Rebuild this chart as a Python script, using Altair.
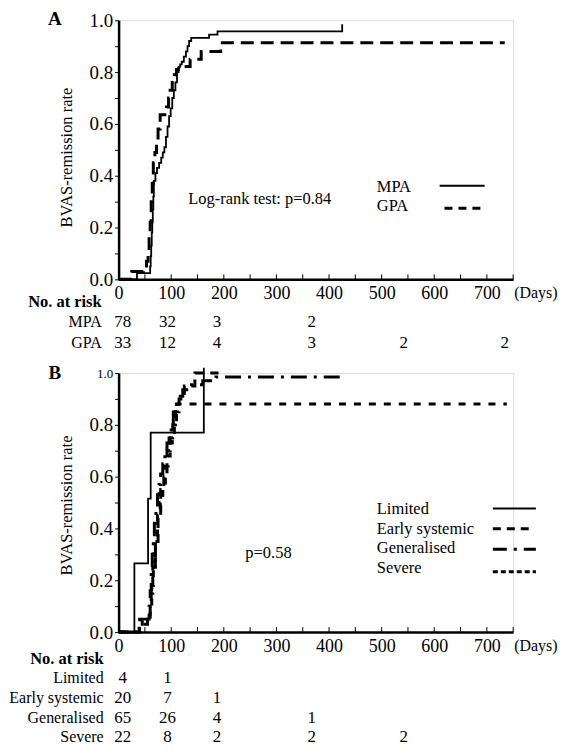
import altair as alt
import pandas as pd

FONT = "Liberation Serif"
W, H = 396, 260
SX, SY = W / 408.0, H / 266.0

# ---------------- data: panel A ----------------
mpa_days = [0, 35, 60, 61, 62, 63, 64, 65, 66, 67, 70, 73, 77, 81, 84, 87, 90, 93, 96, 99,
            102, 105, 108, 111, 114, 117, 120, 124, 128, 131, 134, 138, 172, 188, 425, 425]
mpa_rate = [0, 0.024, 0.05, 0.09, 0.13, 0.18, 0.22, 0.27, 0.32, 0.38, 0.41, 0.43, 0.45, 0.47,
            0.49, 0.51, 0.55, 0.59, 0.63, 0.66, 0.70, 0.73, 0.76, 0.80, 0.82, 0.83, 0.84, 0.86,
            0.88, 0.90, 0.92, 0.932, 0.945, 0.957, 0.957, 0.985]
gpa_days = [0, 25, 47, 53, 56, 58, 60, 62, 64, 66, 69, 72, 75, 79, 91, 95, 98, 102, 106, 110,
            114, 136, 157, 194, 734]
gpa_rate = [0, 0.03, 0.045, 0.07, 0.11, 0.17, 0.22, 0.30, 0.37, 0.45, 0.49, 0.54, 0.58, 0.635,
            0.665, 0.70, 0.73, 0.76, 0.79, 0.81, 0.822, 0.85, 0.88, 0.913, 0.913]

# ---------------- data: panel B ----------------
lim_days = [0, 30, 56, 61, 162, 162]
lim_rate = [0, 0.265, 0.515, 0.77, 1.0, 1.02]
early_days = [0, 40, 60, 62, 65, 70, 75, 80, 86, 92, 98, 103, 108, 115, 125, 145, 190]
early_rate = [0, 0.05, 0.1, 0.15, 0.25, 0.35, 0.45, 0.55, 0.6, 0.7, 0.75, 0.8, 0.85, 0.9,
              0.95, 1.0, 1.0]
gen_days = [0, 36, 45, 55, 58, 60, 62, 64, 66, 68, 71, 74, 77, 80, 84, 88, 92, 96, 100, 104,
            108, 114, 122, 135, 160, 185, 429]
gen_rate = [0, 0.015, 0.03, 0.05, 0.1, 0.16, 0.23, 0.3, 0.36, 0.42, 0.48, 0.53, 0.57, 0.61,
            0.65, 0.69, 0.73, 0.77, 0.81, 0.85, 0.88, 0.91, 0.935, 0.955, 0.97, 0.985, 0.985]
sev_days = [0, 45, 60, 63, 66, 70, 74, 79, 84, 89, 94, 98, 102, 106, 110, 738]
sev_rate = [0, 0.045, 0.09, 0.18, 0.27, 0.36, 0.45, 0.5, 0.55, 0.64, 0.68, 0.73, 0.77, 0.82,
            0.88, 0.88]

# ---------------- axis / table text ----------------
x_label_values = [0, 100, 200, 300, 400, 500, 600, 700]
x_inner_ticks = [0, 50, 100, 150, 200, 250, 300, 350, 400, 450, 500, 550, 600, 650, 700, 750]
y_tick_values = [0, 0.1, 0.2, 0.3, 0.4, 0.5, 0.6, 0.7, 0.8, 0.9, 1.0]
risk_cols = [8, 93, 187, 367, 542, 734]

a_rows = ["MPA", "GPA"]
a_risk = [[78, 32, 3, 2], [33, 12, 4, 3, 2, 2]]
b_rows = ["Limited", "Early systemic", "Generalised", "Severe"]
b_risk = [[4, 1], [20, 7, 1], [65, 26, 4, 1], [22, 8, 2, 2, 2]]

x_scale = alt.Scale(domain=[0, 750], nice=False, zero=False)
y_scale = alt.Scale(domain=[0, 1], nice=False, zero=False)

x_axis = alt.Axis(values=x_label_values, ticks=False, labelFontSize=18, labelPadding=5,
                  labelFlush=False, labelOverlap=False, domainColor="black", domainWidth=2.5,
                  labelColor="black", labelFont=FONT, grid=False, title=None, format="d")


def y_axis(top_small=False):
    lfs = {"condition": {"test": "datum.value == 1", "value": 13}, "value": 19} if top_small else 19
    return alt.Axis(values=y_tick_values,
                    labelExpr="(round(datum.value*10) % 2 == 0) ? format(datum.value, '.1f') : ''",
                    tickSize=4, tickColor="black", tickWidth=1, labelFontSize=lfs, labelPadding=2,
                    labelFlush=False, labelOverlap=False, domainColor="black", domainWidth=2.5,
                    labelColor="black", labelFont=FONT, grid=False, title=None)


def curve(days, rates, dash, width, yax):
    df = pd.DataFrame({"day": days, "rate": rates, "order": list(range(len(days)))})
    mk = dict(interpolate="step-after", color="black", strokeWidth=width)
    if dash:
        mk["strokeDash"] = dash
    return alt.Chart(df).mark_line(**mk).encode(
        x=alt.X("day:Q", scale=x_scale, axis=x_axis),
        y=alt.Y("rate:Q", scale=y_scale, axis=yax),
        order="order:Q")


def txt(s, x, y, size=16.5, align="left", bold=False, angle=None):
    kw = dict(font=FONT, fontSize=size, align=align, baseline="middle", color="black")
    if bold:
        kw["fontWeight"] = "bold"
    if angle is not None:
        kw["angle"] = angle
    return alt.Chart(pd.DataFrame({"t": [s]})).mark_text(**kw).encode(
        x=alt.value(x), y=alt.value(y), text="t:N")


def seg(x1, x2, y, dash, width):
    kw = dict(color="black", strokeWidth=width)
    if dash:
        kw["strokeDash"] = dash
    return alt.Chart(pd.DataFrame({"a": [0]})).mark_rule(**kw).encode(
        x=alt.value(x1 * SX), x2=alt.value(x2 * SX), y=alt.value(y * SY))


def inner_ticks():
    return alt.Chart(pd.DataFrame({"day": x_inner_ticks})).mark_rule(
        color="black", strokeWidth=1).encode(
        x=alt.X("day:Q", scale=x_scale, axis=x_axis), y=alt.value(H), y2=alt.value(H - 5))


def risk_row(counts, ypix):
    df = pd.DataFrame({"day": risk_cols[:len(counts)], "n": counts})
    return alt.Chart(df).mark_text(font=FONT, fontSize=17, baseline="middle",
                                   color="black").encode(
        x=alt.X("day:Q", scale=x_scale, axis=x_axis), y=alt.value(ypix), text="n:N")


# ---------------- panel A ----------------
ya = y_axis(False)
layers_a = [
    inner_ticks(),
    curve(mpa_days, mpa_rate, None, 1.8, ya),
    curve(gpa_days, gpa_rate, [13, 7], 3, ya),
    txt("A", -64, -1, size=19, align="center", bold=True),
    txt("BVAS-remission rate", -52, 141 * SY, size=16.5, align="center", angle=270),
    txt("Log-rank test: p=0.84", 72 * SX, 183 * SY),
    txt("MPA", 267 * SX, 171 * SY),
    txt("GPA", 267 * SX, 191 * SY),
    seg(332, 378.5, 170, None, 2),
    seg(337, 377, 193, [8, 6], 3),
    txt("(Days)", W + 1, H + 14, size=16),
    txt("No. at risk", -17, H + 23, size=16.5, align="right", bold=True),
]
a_offsets = [43, 64]
for name, counts, off in zip(a_rows, a_risk, a_offsets):
    layers_a.append(txt(name, -17, H + off, size=16, align="right"))
    layers_a.append(risk_row(counts, H + off))
panel_a = alt.layer(*layers_a).properties(width=W, height=H)

# ---------------- panel B ----------------
yb = y_axis(True)
layers_b = [
    inner_ticks(),
    curve(lim_days, lim_rate, None, 1.8, yb),
    curve(early_days, early_rate, [10, 6], 3, yb),
    curve(gen_days, gen_rate, [16, 7, 3, 7], 3, yb),
    curve(sev_days, sev_rate, [7, 8], 3, yb),
    txt("B", -64, 0, size=19, align="center", bold=True),
    txt("BVAS-remission rate", -52, 136 * SY, size=16.5, align="center", angle=270),
    txt("p=0.58", 155 * SX, 185 * SY, align="center"),
    txt("Limited", 267 * SX, 140 * SY),
    txt("Early systemic", 267 * SX, 160 * SY),
    txt("Generalised", 267 * SX, 180 * SY),
    txt("Severe", 267 * SX, 200 * SY),
    seg(387, 431.5, 139, None, 2),
    seg(387, 427, 160, [8, 6], 3),
    seg(387, 431.5, 181, [14, 7, 3, 7], 3),
    seg(387, 431.5, 204, [5, 3], 3),
    txt("(Days)", W + 1, H + 14, size=16),
    txt("No. at risk", -15, H + 27, size=16.5, align="right", bold=True),
]
b_offsets = [46, 66, 86, 105]
for name, counts, off in zip(b_rows, b_risk, b_offsets):
    layers_b.append(txt(name, -15, H + off, size=16, align="right"))
    layers_b.append(risk_row(counts, H + off))
panel_b = alt.layer(*layers_b).properties(width=W, height=H)

chart = alt.vconcat(panel_a, panel_b, spacing=94, bounds="flush").properties(
    padding={"left": 0, "top": 0, "right": 0, "bottom": 0}, background="white"
).configure_view(stroke=None).configure(font=FONT)

chart.save("out.html", embed_options={"renderer": "svg", "actions": False})
